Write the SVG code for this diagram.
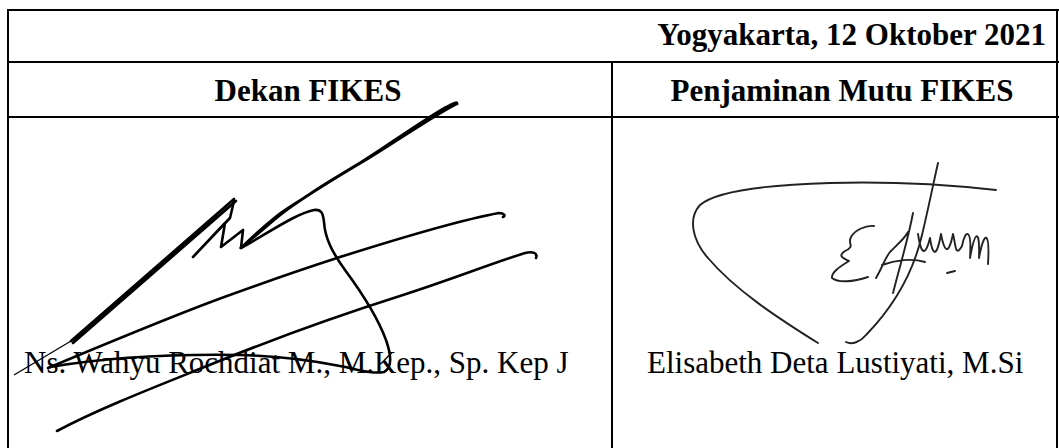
<svg xmlns="http://www.w3.org/2000/svg" width="1059" height="448" viewBox="0 0 1059 448">
<style>
.b{font-family:"Liberation Serif","Times New Roman",serif;font-weight:bold;font-size:31px;fill:#000}
.r{font-family:"Liberation Serif","Times New Roman",serif;font-size:31px;fill:#000}
.grid{stroke:#000;stroke-width:2;fill:none}
.sig{fill:none;stroke:#000;stroke-width:2.6;stroke-linecap:round;stroke-linejoin:round}
.sig2{fill:none;stroke:#222;stroke-width:1.9;stroke-linecap:round;stroke-linejoin:round}
</style>
<rect width="1059" height="448" fill="#fff"/>
<g id="table" class="grid">
<line x1="7" y1="10" x2="1059" y2="10"/>
<line x1="8" y1="9" x2="8" y2="448"/>
<line x1="1057" y1="9" x2="1057" y2="448"/>
<line x1="7" y1="62" x2="1059" y2="62"/>
<line x1="7" y1="117" x2="1059" y2="117"/>
<line x1="612" y1="62" x2="612" y2="448"/>
</g>
<g id="date"><text class="b" x="1046" y="45" text-anchor="end">Yogyakarta, 12 Oktober 2021</text></g>
<g id="dekan"><text class="b" x="308" y="101" text-anchor="middle">Dekan FIKES</text></g>
<g id="penjaminan"><text class="b" x="842" y="101" text-anchor="middle">Penjaminan Mutu FIKES</text></g>
<g id="name-left"><text class="r" x="24" y="373">Ns. Wahyu Rochdiat M., M.Kep., Sp. Kep J</text></g>
<g id="name-right"><text class="r" x="647" y="373">Elisabeth Deta Lustiyati, M.Si</text></g>
<g id="sign-left">
<path d="M457,102 C450,103 440,110 427,118 C400,135 380,150 360,162 C335,177 320,186 310,193 C295,203 285,209 277,215 C262,227 250,238 240,248 L244,246 C258,235 270,224 280,216 C300,200 330,182 362,163 C400,140 440,112 458,104 Z" fill="#000" stroke="#000" stroke-width="1.4" stroke-linejoin="round"/>
<path d="M14,375 L71,341" fill="none" stroke="#000" stroke-width="1.3"/>
<path class="sig" d="M71,341 L234,199 L74,340 M73,343 L236,201"/>
<path class="sig" d="M234,201 L230,218 L193,257 L225,223 L221,247 L243,230 L241,248"/>
<path class="sig" d="M241,248 C270,232 295,214 314,210 C322,209 323,214 324,222 C325,238 332,252 345,270 C362,293 378,318 386,340 C392,357 392,368 384,372 C372,374 360,370 340,366 C310,360 280,356 240,355 C180,354 110,357 50,367" stroke-width="3"/>
<path class="sig" d="M48,368 C110,342 180,313 227,296 C260,284 300,270 337,258 C400,238 460,220 499,213 C504,213 506,216 503,217"/>
<path class="sig" d="M57,431 C100,408 160,385 207,366 C280,336 340,315 403,295 C450,280 490,264 525,253 C533,251 538,253 536,258"/>
</g>
<g id="sign-right">
<path class="sig2" d="M996,190 C960,186 900,181 830,183 C760,185 715,192 700,205 C688,218 692,240 708,258 C735,290 778,318 818,343"/>
<path class="sig2" d="M938,163 C933,185 928,210 922,235 C915,265 900,300 866,335 C860,342 852,345 846,342"/>
<path class="sig2" d="M874,226 C866,225 855,230 851,237 C847,244 856,246 845,251 C836,257 846,259 849,261 C841,266 831,272 832,278 C838,283 853,282 868,277"/>
<path class="sig2" d="M913,213 C908,240 900,265 893,293 M876,278 C882,268 885,258 890,252 C900,242 905,238 908,232 M882,265 C895,260 912,258 925,262"/>
<path class="sig2" d="M918,234 C920,248 924,262 930,238 C932,252 936,262 941,234 C944,250 948,258 953,234 C956,245 955,258 962,246 C965,230 972,226 970,258 C975,230 980,228 979,258 C984,230 990,230 988,264"/>
<path class="sig2" d="M947,273 L955,271"/>
</g>
</svg>
